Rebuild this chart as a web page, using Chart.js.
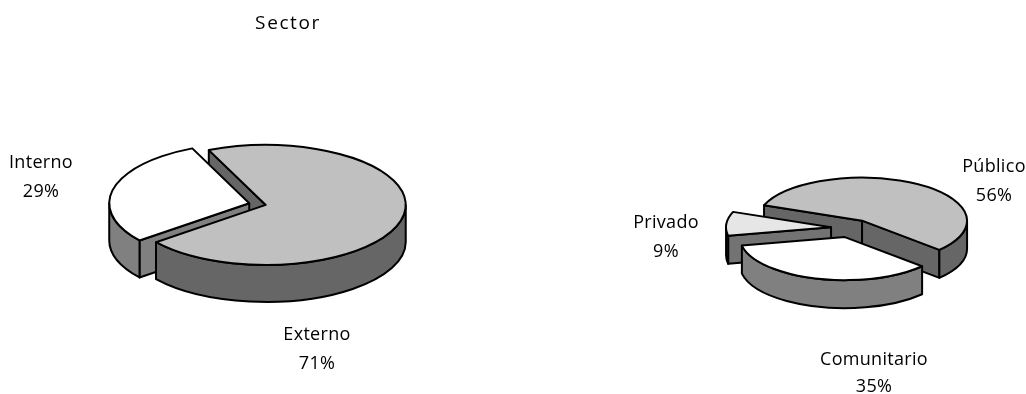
<!DOCTYPE html>
<html>
<head>
<meta charset="utf-8">
<style>
html,body{margin:0;padding:0;background:#fff;width:1026px;height:394px;overflow:hidden}
canvas{position:absolute;left:0;top:0}
</style>
<script src="https://cdn.jsdelivr.net/npm/chart.js@4"></script>
</head>
<body>
<canvas id="left" width="576" height="394" style="width:576px;height:394px"></canvas>
<canvas id="right" width="1026" height="394" style="width:1026px;height:394px"></canvas>
<script>
const titleText = 'Sector';
const sectorLabels = ['Externo', 'Interno'];
const sectorValues = [71, 29];
const sectorTopColors = ['#c0c0c0', '#ffffff'];
const sectorWallColors = ['#666666', '#808080'];
const ownerLabels = ['Público', 'Comunitario', 'Privado'];
const ownerValues = [56, 35, 9];
const ownerTopColors = ['#c0c0c0', '#ffffff', '#e6e6e6'];
const ownerWallColors = ['#666666', '#808080', '#737373'];

const FONT = '"Open Sans", sans-serif';
const pie3d = {
  id: 'pie3d',
  geom(chart, opts, arc, i) {
    const mid = (arc.startAngle + arc.endAngle) / 2, e = opts.explode[i];
    return {
      x: opts.cx + Math.cos(mid) * e,
      y: opts.cy + Math.sin(mid) * e * opts.k,
      r: arc.outerRadius, a: arc.startAngle, b: arc.endAngle, k: opts.k, d: opts.depth
    };
  },
  face(ctx, g, ang, color) {
    const ex = g.x + Math.cos(ang) * g.r, ey = g.y + Math.sin(ang) * g.r * g.k;
    ctx.beginPath();
    ctx.moveTo(g.x, g.y); ctx.lineTo(ex, ey);
    ctx.lineTo(ex, ey + g.d); ctx.lineTo(g.x, g.y + g.d);
    ctx.closePath();
    ctx.fillStyle = color; ctx.fill(); ctx.stroke();
  },
  beforeDraw(chart) {
    chart.ctx.letterSpacing = '1.6px';
  },
  beforeDatasetDraw(chart, args, opts) {
    const ctx = chart.ctx, arcs = args.meta.data;
    ctx.save();
    ctx.lineWidth = opts.line; ctx.strokeStyle = '#000'; ctx.lineJoin = 'round';
    // cut faces turned towards the viewer
    arcs.forEach((arc, i) => {
      const g = this.geom(chart, opts, arc, i);
      if (Math.cos(g.a) < 0) this.face(ctx, g, g.a, opts.walls[i]);
      if (Math.cos(g.b) > 0) this.face(ctx, g, g.b, opts.walls[i]);
    });
    // outer rim walls
    arcs.forEach((arc, i) => {
      const g = this.geom(chart, opts, arc, i);
      [-2, 0, 2].forEach(n => {
        const lo = Math.max(g.a, n * Math.PI), hi = Math.min(g.b, (n + 1) * Math.PI);
        if (hi <= lo) return;
        ctx.beginPath();
        ctx.ellipse(g.x, g.y, g.r, g.r * g.k, 0, lo, hi);
        ctx.ellipse(g.x, g.y + g.d, g.r, g.r * g.k, 0, hi, lo, true);
        ctx.closePath();
        ctx.fillStyle = opts.walls[i]; ctx.fill(); ctx.stroke();
      });
    });
    // top faces: the library's arc elements, squashed into perspective
    arcs.forEach((arc, i) => {
      const g = this.geom(chart, opts, arc, i);
      ctx.save();
      ctx.translate(g.x, g.y); ctx.scale(1, g.k); ctx.translate(-arc.x, -arc.y);
      arc.draw(ctx);
      ctx.restore();
      ctx.beginPath();
      ctx.moveTo(g.x, g.y);
      ctx.ellipse(g.x, g.y, g.r, g.r * g.k, 0, g.a, g.b);
      ctx.closePath();
      ctx.stroke();
    });
    ctx.restore();
    return false;
  },
  afterDraw(chart, args, opts) {
    const ctx = chart.ctx, labels = chart.data.labels, vals = chart.data.datasets[0].data;
    ctx.save();
    ctx.letterSpacing = '0.3px';
    ctx.fillStyle = '#000'; ctx.textAlign = 'center'; ctx.textBaseline = 'alphabetic';
    ctx.font = opts.fontSize + 'px ' + FONT;
    labels.forEach((t, i) => {
      const [x, y, gap] = opts.anchors[i];
      ctx.fillText(t, x, y);
      ctx.fillText(vals[i] + '%', x, y + gap);
    });
    ctx.restore();
  }
};

function pie(id, labels, values, tops, walls, rotation, radius, p, title) {
  return new Chart(document.getElementById(id), {
    type: 'pie',
    plugins: [pie3d],
    data: { labels, datasets: [{ data: values, backgroundColor: tops, borderWidth: 0 }] },
    options: {
      responsive: false, animation: false, rotation, radius,
      layout: { padding: 0 },
      plugins: {
        legend: { display: false }, tooltip: { enabled: false },
        title: title ? { display: true, text: title, color: '#000',
          font: { family: FONT, size: 19, weight: 'normal' }, padding: { top: 12, bottom: 0 } } : { display: false },
        pie3d: Object.assign({ walls, line: 2, fontSize: 18 }, p)
      }
    }
  });
}

pie('left', sectorLabels, sectorValues, sectorTopColors, sectorWallColors, -24, 140,
  { cx: 257, cy: 204, k: 0.4286, depth: 37, explode: [9, 8], anchors: [[317, 340, 29], [41, 168, 29]] }, titleText);
pie('right', ownerLabels, ownerValues, ownerTopColors, ownerWallColors, -69, 105,
  { cx: 851, cy: 228, k: 0.41, depth: 28, explode: [21, 23, 20], anchors: [[994, 172, 29], [874, 365, 27], [666, 228, 29]] });
</script>
</body>
</html>
